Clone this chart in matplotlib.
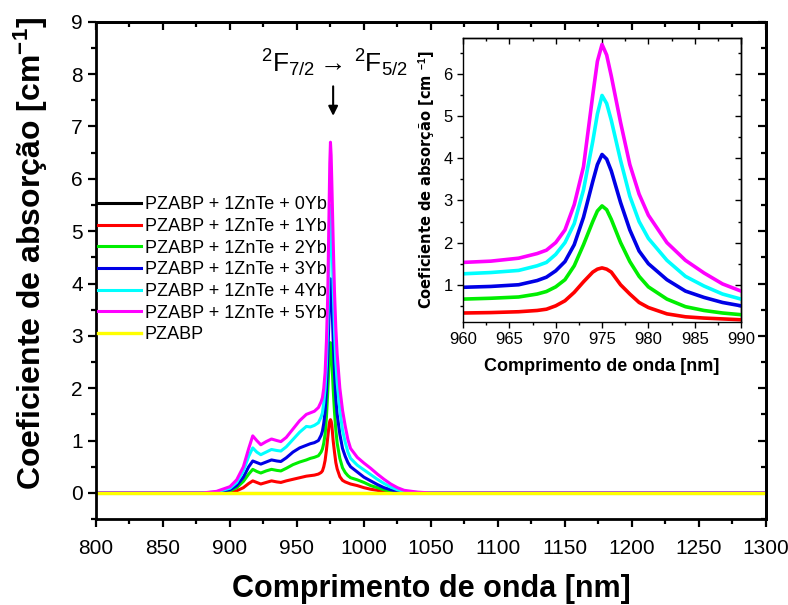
import matplotlib
matplotlib.use("Agg")
import matplotlib.pyplot as plt
from matplotlib.ticker import MultipleLocator

plt.rcParams['font.family'] = ['Liberation Sans', 'DejaVu Sans']
plt.rcParams['mathtext.fontset'] = 'custom'
plt.rcParams['mathtext.rm'] = 'Liberation Sans'
plt.rcParams['mathtext.it'] = 'Liberation Sans:italic'
plt.rcParams['mathtext.bf'] = 'Liberation Sans:bold'

# wavelength grid (nm) shared by the doped samples
wl = [800, 880, 890, 900, 905, 910, 914, 917, 920, 923, 927, 931, 935, 938, 942, 947,
      952, 957, 960, 963, 966, 968, 969, 970, 971, 972, 973, 974, 974.5, 975, 975.5,
      976, 977, 978, 979, 980, 982, 984, 986, 988, 990, 995, 1000, 1005, 1010, 1015,
      1020, 1025, 1030, 1040, 1050, 1300]

# absorption coefficient (cm^-1)
yb1 = [0, 0, 0, 0.01, 0.04, 0.10, 0.18, 0.23, 0.20, 0.17, 0.20, 0.23, 0.21, 0.20, 0.23, 0.26,
       0.29, 0.32, 0.33, 0.34, 0.36, 0.39, 0.42, 0.50, 0.62, 0.82, 1.07, 1.30, 1.37, 1.40, 1.37,
       1.30, 1.00, 0.78, 0.58, 0.46, 0.31, 0.24, 0.21, 0.19, 0.17, 0.14, 0.10, 0.07, 0.05, 0.02,
       0.01, 0, 0, 0, 0, 0]
yb2 = [0, 0, 0.005, 0.04, 0.10, 0.22, 0.36, 0.45, 0.41, 0.38, 0.42, 0.45, 0.43, 0.42, 0.47, 0.54,
       0.59, 0.63, 0.66, 0.68, 0.71, 0.78, 0.84, 0.95, 1.12, 1.45, 1.95, 2.50, 2.75, 2.87, 2.78,
       2.55, 2.00, 1.55, 1.20, 0.95, 0.66, 0.48, 0.39, 0.33, 0.29, 0.25, 0.20, 0.14, 0.10, 0.06,
       0.03, 0.01, 0, 0, 0, 0]
yb3 = [0, 0, 0.01, 0.06, 0.14, 0.30, 0.50, 0.61, 0.58, 0.55, 0.59, 0.63, 0.61, 0.60, 0.67, 0.78,
       0.86, 0.91, 0.94, 0.96, 1.00, 1.10, 1.18, 1.33, 1.55, 1.95, 2.60, 3.45, 3.85, 4.09, 3.98,
       3.70, 2.95, 2.30, 1.80, 1.50, 1.12, 0.85, 0.70, 0.58, 0.50, 0.40, 0.30, 0.23, 0.16, 0.10,
       0.06, 0.03, 0.01, 0, 0, 0]
yb4 = [0, 0, 0.02, 0.09, 0.20, 0.42, 0.70, 0.86, 0.78, 0.73, 0.78, 0.83, 0.81, 0.80, 0.88, 1.02,
       1.16, 1.27, 1.26, 1.29, 1.34, 1.45, 1.53, 1.72, 2.00, 2.45, 3.25, 4.40, 5.05, 5.49, 5.30,
       4.90, 3.95, 3.10, 2.50, 2.10, 1.58, 1.20, 0.97, 0.78, 0.66, 0.53, 0.44, 0.35, 0.26, 0.18,
       0.11, 0.06, 0.03, 0.01, 0, 0]
yb5 = [0, 0, 0.03, 0.12, 0.25, 0.50, 0.85, 1.09, 1.00, 0.92, 0.98, 1.03, 1.00, 0.98, 1.06, 1.22,
       1.38, 1.50, 1.53, 1.56, 1.63, 1.74, 1.82, 2.00, 2.30, 2.90, 3.80, 5.50, 6.30, 6.70, 6.45,
       5.95, 4.85, 3.85, 3.15, 2.65, 2.00, 1.58, 1.28, 1.02, 0.85, 0.68, 0.57, 0.47, 0.36, 0.26,
       0.17, 0.10, 0.05, 0.015, 0, 0]

# undoped samples: flat baseline
base_wl = [800, 1300]
yb0 = [0.0, 0.0]
pzabp = [0.0, 0.0]

labels = ['PZABP + 1ZnTe + 0Yb', 'PZABP + 1ZnTe + 1Yb', 'PZABP + 1ZnTe + 2Yb',
          'PZABP + 1ZnTe + 3Yb', 'PZABP + 1ZnTe + 4Yb', 'PZABP + 1ZnTe + 5Yb', 'PZABP']
colors = ['black', '#ff0000', '#00ee00', '#0000e6', '#00ffff', '#ff00ff', '#ffff00']
doped = [yb1, yb2, yb3, yb4, yb5]


def mirror_ticks(a, xmaj, xmin, ymaj, ymin, length, width, lw):
    """Inward ticks on the top and right spines (bottom/left stay outward)."""
    top = a.secondary_xaxis('top')
    top.xaxis.set_major_locator(MultipleLocator(xmaj))
    top.xaxis.set_minor_locator(MultipleLocator(xmin))
    top.tick_params(which='both', direction='in', width=width, labeltop=False)
    top.tick_params(which='major', length=length)
    top.tick_params(which='minor', length=length * 0.6)
    right = a.secondary_yaxis('right')
    right.yaxis.set_major_locator(MultipleLocator(ymaj))
    right.yaxis.set_minor_locator(MultipleLocator(ymin))
    right.tick_params(which='both', direction='in', width=width, labelright=False)
    right.tick_params(which='major', length=length)
    right.tick_params(which='minor', length=length * 0.6)
    for sec in (top, right):
        for s in sec.spines.values():
            s.set_linewidth(lw)


fig = plt.figure(figsize=(7.88, 6.05), dpi=100)
ax = fig.add_axes([0.1218, 0.142, 0.8502, 0.822])

ax.plot(base_wl, yb0, color=colors[0], lw=2.2, label=labels[0])
for y, c, lab in zip(doped, colors[1:6], labels[1:6]):
    ax.plot(wl, y, color=c, lw=2.2, label=lab)
ax.plot(base_wl, pzabp, color=colors[6], lw=2.4, label=labels[6])

ax.set_xlim(800, 1300)
ax.set_ylim(-0.5, 9)
ax.xaxis.set_major_locator(MultipleLocator(50))
ax.xaxis.set_minor_locator(MultipleLocator(25))
ax.yaxis.set_major_locator(MultipleLocator(1))
ax.yaxis.set_minor_locator(MultipleLocator(0.5))
for s in ax.spines.values():
    s.set_linewidth(2.0)
ax.tick_params(which='major', direction='out', length=6, width=1.6, labelsize=15)
ax.tick_params(which='minor', direction='out', length=3.5, width=1.6)
ax.tick_params(axis='x', pad=8)
mirror_ticks(ax, 50, 25, 1, 0.5, 6, 1.6, 2.0)

ax.set_xlabel('Comprimento de onda [nm]', fontweight='bold', fontsize=22, labelpad=12)
ax.set_ylabel(r'Coeficiente de absorção [cm$^{\mathbf{-1}}$]', fontweight='bold', fontsize=23)
ax.yaxis.set_label_coords(-0.068, 0.535)

ax.text(978, 8.03, r'$^{2}\mathregular{F}_{7/2}\rightarrow\,^{2}\mathregular{F}_{5/2}$',
        fontsize=19, ha='center', va='baseline')
ax.annotate('', xy=(977, 7.15), xytext=(977, 7.82),
            arrowprops=dict(arrowstyle='-|>', color='black', lw=1.5, mutation_scale=14))

ax.legend(loc='upper left', bbox_to_anchor=(0.0, 0.653), frameon=False, fontsize=13,
          handlelength=2.4, handletextpad=0.2, labelspacing=0.26, borderpad=0.1,
          borderaxespad=0.0)

# inset zoom on the Yb peak
ins = fig.add_axes([0.5876, 0.468, 0.3528, 0.469])
for y, c in zip(doped, colors[1:6]):
    ins.plot(wl, y, color=c, lw=2.6)
ins.set_xlim(960, 990)
ins.set_ylim(0.12, 6.85)
ins.xaxis.set_major_locator(MultipleLocator(5))
ins.xaxis.set_minor_locator(MultipleLocator(2.5))
ins.yaxis.set_major_locator(MultipleLocator(1))
ins.yaxis.set_minor_locator(MultipleLocator(0.5))
ins.tick_params(which='both', direction='out', top=False, right=False, labelsize=12, width=1.0)
ins.tick_params(which='major', length=4)
ins.tick_params(which='minor', length=2.5)
for s in ins.spines.values():
    s.set_linewidth(1.0)
mirror_ticks(ins, 5, 2.5, 1, 0.5, 4, 1.0, 1.0)
ins.set_xlabel('Comprimento de onda [nm]', fontweight='bold', fontsize=13, labelpad=8)
ins.set_ylabel(r'Coeficiente de absorção [cm $^{\mathbf{-1}}$]', family='DejaVu Sans',
               fontweight='bold', fontsize=10.5, labelpad=4)

fig.savefig('out.png', dpi=100)
